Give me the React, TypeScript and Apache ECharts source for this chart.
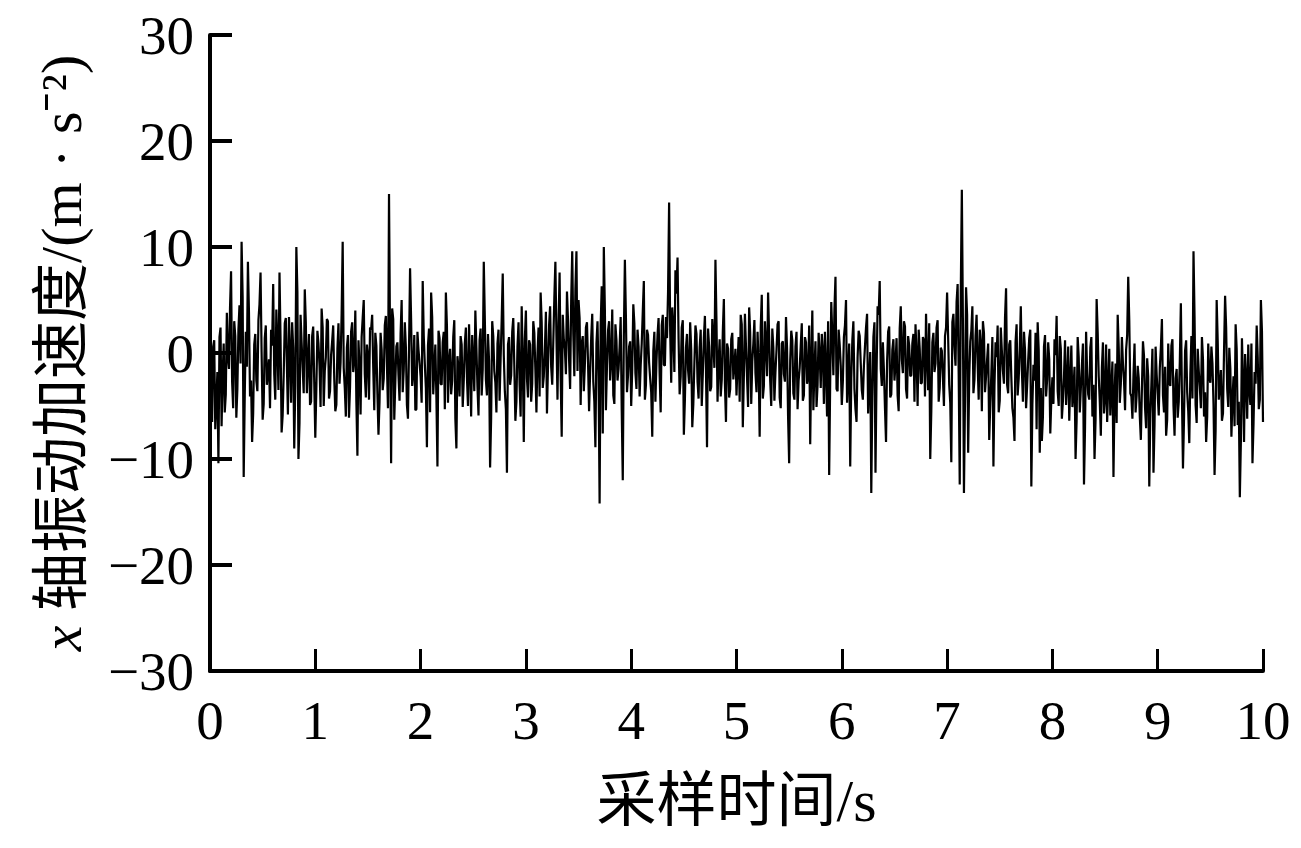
import React, { useEffect, useRef } from "react";
import * as echarts from "echarts";

// sampling step of the hand-read signal (s)
const SAMPLE_STEP_S = 0.01;

// axis ticks
const xTicks = [0, 1, 2, 3, 4, 5, 6, 7, 8, 9, 10];
const yTicks = [-30, -20, -10, 0, 10, 20, 30];

// x-axis vibration acceleration (m·s^-2).
// segN: samples at t = N + 0.00, 0.02, ... ; midN: samples at t = N + 0.01, 0.03, ...
const seg0 = [
  -3.2, -6.5, 1.2, -4.8, -10.4, 2.4, -2.1, -5.6, 3.8, -1.5,
  7.7, -5.2, 1.6, -3.4, 4.5, 10.5, -11.7, 2.0, 8.6, -4.1,
  -8.4, 0.8, -2.6, 3.1, 7.6, -6.3, 1.4, -3.0, -0.6, 2.2,
  6.5, -4.4, 0.9, 7.6, -7.5, -2.0, 3.3, -5.8, 0.2, 2.9,
  -9.0, 10.0, -10.0, 3.6, -1.4, 6.0, -3.8, 1.8, -4.6, 2.5,
];
const mid0 = [
  -5.8, 0.6, -7.2, -1.8, 1.5, -6.9, 0.9, -3.9, -0.4, 4.2,
  -2.7, 3.0, -6.1, 2.2, -1.0, 5.3, -4.0, -1.3, 3.9, -2.6,
  -5.7, 1.8, -3.6, 4.6, 0.1, -4.8, 2.6, -1.9, -5.2, 0.7,
  -2.0, 4.1, -3.5, 1.3, -5.9, 2.8, -1.1, 3.4, -4.7, 0.5,
  -3.1, 5.8, -6.6, 1.0, -3.8, 2.9, -0.7, -4.9, 1.6, -2.8,
];
const seg1 = [
  -8.0, 2.1, -1.2, 4.2, -5.0, -0.4, 3.0, -3.6, 1.1, -2.4,
  -4.9, 2.8, -0.9, 10.5, -3.3, 0.5, -6.1, 2.0, -1.8, 4.0,
  -9.7, -1.2, 1.5, 5.0, -4.2, -0.3, 2.4, 3.6, -5.4, 0.7,
  -7.7, 1.9, -3.5, 2.6, -1.0, 15.0, -10.4, 3.2, -2.7, 1.0,
  -4.5, 5.0, -1.6, 0.6, -6.2, 8.0, -3.1, 1.7, -5.3, 0.3,
];
const mid1 = [
  -3.4, 0.9, -5.1, 2.4, -1.7, 3.2, -4.3, -0.2, 2.6, -5.5,
  0.4, -2.9, 3.7, -1.4, -6.0, 1.7, -3.2, 2.9, -0.6, -4.6,
  1.2, -5.8, 3.3, -2.0, 0.8, -4.4, 2.2, -1.3, 1.9, -3.9,
  -4.6, 0.3, -2.4, 3.5, -5.2, 1.1, 4.2, -6.3, 0.6, -2.1,
  1.8, -3.7, 2.9, -4.9, 0.4, 3.1, -1.9, -5.4, 2.0, -0.9,
];
const seg2 = [
  -2.2, 6.8, -1.0, -8.9, 2.3, 5.7, -3.9, 0.8, -10.7, 1.4,
  -3.0, 2.0, 5.7, -4.7, 0.4, -2.6, 3.1, -9.0, -1.5, 1.6,
  -5.1, 0.9, -2.3, 2.7, -6.0, -0.8, 4.0, -3.2, 1.2, -4.0,
  8.6, -2.5, 1.8, -10.8, 3.0, -1.7, -5.6, 2.2, -0.5, 7.5,
  -3.6, -11.3, 1.5, -2.1, 3.3, -6.4, 0.6, -3.0, 4.4, -8.4,
];
const mid2 = [
  -4.7, 1.6, -3.3, 0.7, -5.6, 3.4, -1.6, -4.2, 2.1, -2.9,
  1.0, -5.3, 2.6, -0.8, -3.9, 1.5, -6.2, -0.3, -4.1, 0.8,
  -2.6, 2.4, -5.0, -1.2, 1.7, -3.6, 0.5, -5.9, 2.3, -1.5,
  3.2, -4.0, -0.7, -6.1, 1.6, -2.8, 0.9, -4.5, 3.1, -0.2,
  -5.3, 0.8, -3.0, 2.0, -1.2, -4.6, 2.9, -6.0, -0.5, 1.3,
];
const seg3 = [
  4.0, -4.2, 0.8, -2.9, 1.9, -5.6, 2.4, 5.7, -3.3, 0.2,
  -5.7, 2.6, -1.3, 1.0, 8.6, -4.4, 7.6, -7.9, 1.3, -2.0,
  3.1, -3.4, 9.6, -2.2, 9.6, 5.0, -4.9, 1.6, -1.1, 2.9,
  -5.5, 1.4, -2.7, -8.9, 3.0, -14.2, 6.3, 10.0, -5.4, 2.1,
  -2.6, 4.1, -4.8, 1.2, -1.5, 3.4, -12.0, 8.8, -3.7, 0.6,
];
const mid3 = [
  -2.4, 1.2, -4.6, 3.0, -1.6, -0.1, -4.1, 2.9, -2.2, 3.9,
  -1.2, 4.4, -3.0, 5.2, 1.6, 2.8, -2.2, 3.6, 0.4, 5.8,
  -0.6, 4.9, 1.8, 6.0, -1.7, 3.3, 0.9, -3.6, 2.4, -0.9,
  -1.8, 3.7, -4.6, 0.9, -2.2, 2.6, -7.6, 4.1, -1.2, 3.0,
  -0.8, -4.0, 2.7, -2.6, 0.6, -5.4, 1.5, 3.3, -2.1, 1.1,
];
const seg4 = [
  -5.0, 4.6, -1.9, 2.2, -4.1, 0.9, 6.8, -3.0, 1.7, -2.4,
  -7.9, 2.0, -0.8, 3.3, -5.6, 3.6, -1.2, 1.4, 14.2, -2.8,
  2.4, 7.8, 9.0, -3.9, 2.4, -7.7, 0.5, -1.6, 2.9, -7.0,
  -1.0, 1.8, -4.3, 2.2, -2.0, 3.5, -8.9, 0.6, -3.2, 1.1,
  8.8, -4.6, 1.3, -2.5, 5.1, -6.5, 0.4, -3.4, 1.9, -1.2,
];
const mid4 = [
  -1.5, 2.8, -3.4, 0.6, -1.2, 3.9, -4.4, 2.2, -0.9, -3.7,
  0.2, -4.6, 1.7, -2.0, 2.6, -1.1, 3.4, 5.8, 2.2, 4.3,
  -1.8, 5.6, 1.3, -2.2, 3.1, -4.4, 1.8, -2.9, 0.3, -4.8,
  2.6, -2.7, 0.5, -5.0, 1.4, -1.6, 2.3, -3.6, 3.2, -1.4,
  2.9, -0.8, -4.1, 2.0, -2.9, 0.9, -4.2, 1.3, -2.5, 0.4,
];
const seg5 = [
  -4.0, 1.5, 3.6, -7.0, 3.7, -2.3, 4.3, -4.8, 0.9, -1.9,
  2.0, -7.9, 5.5, -3.1, 0.7, 5.7, -2.6, 2.3, -4.5, 0.3,
  3.0, -5.2, 1.1, -2.7, 0.5, -10.4, 2.1, -3.8, 0.6, -5.3,
  -1.4, 2.8, -4.0, 1.0, -2.2, -8.6, 4.0, -1.6, -5.1, 1.9,
  -3.3, 0.2, 2.0, -6.0, -11.5, 4.8, -2.1, 7.2, -3.6, 0.8,
];
const mid5 = [
  -1.0, -4.6, 2.7, -2.2, 0.6, -5.1, 1.9, -0.8, 3.1, -3.7,
  -0.9, 2.4, -4.3, 3.0, -2.2, 1.6, -5.0, 0.5, -1.8, 2.7,
  -4.2, 0.9, -2.0, 3.4, -6.1, -0.7, 1.2, -4.4, 2.0, -2.6,
  0.7, -4.5, 1.5, -2.9, 2.6, -0.9, -5.4, 1.1, -3.0, -0.2,
  1.8, -4.8, -1.6, 3.0, -2.5, 1.6, 4.1, -3.4, 2.2, -1.2,
];
const seg6 = [
  -4.9, 1.5, 5.0, -2.0, -10.7, 1.2, -3.4, -6.5, 2.1, -1.0,
  -4.4, 0.6, 3.7, -2.8, -13.2, 1.5, -11.3, 4.4, 6.8, -3.1,
  -1.6, -8.4, 2.0, -4.2, 0.3, -2.6, 1.4, -5.5, 4.4, -1.9,
  2.5, -4.3, 0.7, -2.1, 1.8, 2.7, -5.0, 0.4, -2.8, 1.2,
  3.7, -3.5, -10.0, 1.0, -1.8, 2.4, -4.6, 0.5, -2.3, 1.6,
];
const mid6 = [
  -2.7, 2.6, -4.7, 0.9, -2.4, 3.0, -5.3, -0.4, 1.6, -3.5,
  -1.2, 2.4, -5.7, 0.1, -4.2, 2.9, -2.0, 3.6, -1.5, 1.0,
  -5.2, -0.8, 2.5, -3.9, 1.3, -1.1, -4.0, 2.3, -0.6, 3.0,
  -3.4, 1.6, -2.2, 0.9, -4.6, -0.3, 2.2, -2.9, 1.5, -4.1,
  -0.5, 2.8, -5.5, 1.9, -1.0, 3.1, -3.3, 0.2, -5.0, 2.4,
];
const seg7 = [
  5.7, -3.0, -10.3, 3.7, -1.2, 6.5, -12.4, 15.4, -13.2, 6.2,
  -9.4, 1.1, 4.4, -2.5, 3.6, -4.4, 0.8, 3.0, -3.7, -0.6,
  -8.2, -2.0, -10.7, 1.0, 2.6, -4.5, 0.2, -2.9, 6.1, -3.8,
  1.2, -5.2, -8.3, 2.7, -2.4, 4.4, -4.6, 0.3, -3.1, 1.4,
  -12.6, -1.1, 1.9, 2.9, -9.4, -8.3, 0.6, -4.1, 1.0, -7.6,
];
const mid7 = [
  1.4, -4.7, 2.9, 0.6, 4.8, -2.0, 5.9, 3.1, -4.5, 3.6,
  -2.4, 2.1, -3.8, 1.6, -1.0, 2.2, -5.5, 1.9, -2.2, 0.9,
  -4.8, 1.5, -3.1, -0.4, -5.6, 2.4, -1.7, 3.3, -3.0, 0.8,
  -2.3, -6.1, 1.0, -4.0, 0.4, -1.6, 2.0, -5.2, -0.7, 2.2,
  -4.9, -2.6, -7.2, 0.3, -3.3, -6.0, 1.7, -2.5, -0.6, -4.3,
];
const seg8 = [
  -2.3, 1.3, 3.5, -5.0, 0.4, -4.5, 1.2, -2.8, -6.4, 0.7,
  -3.5, -10.0, 1.5, -5.6, -1.2, -12.4, 2.0, -3.9, 0.5, -6.0,
  -10.0, 5.1, -2.2, -7.8, 1.0, -4.3, -6.5, 0.4, -3.3, -11.7,
  -1.0, 3.6, -4.7, 1.5, -2.6, 0.3, 7.2, -3.8, -6.2, 0.9,
  -4.0, -2.4, -8.2, 1.1, -5.2, -0.5, -12.6, -3.0, -11.3, 0.6,
];
const mid8 = [
  -4.8, -0.2, -3.6, 1.6, -6.2, -2.3, -4.9, 0.6, -2.7, -5.1,
  -1.3, -6.4, -0.4, -3.4, 0.9, -7.0, -1.9, -4.4, 1.5, -3.0,
  -6.3, 2.0, -4.6, -1.4, -5.7, 0.8, -3.2, -5.9, -0.8, -4.0,
  -6.6, 0.5, -2.9, -1.0, -5.4, 1.7, 3.1, -4.1, -2.1, -5.6,
  -1.2, -6.0, -3.4, -0.3, -7.1, -2.2, -5.8, 0.4, -6.7, -2.0,
];
const seg9 = [
  -3.9, -1.4, 3.2, -5.6, -7.8, 0.9, -3.1, 1.3, -7.8, -1.5,
  -4.6, 4.7, -10.9, 0.2, -3.7, -8.5, 1.6, 9.6, -4.9, 0.4,
  -3.2, 1.5, -6.0, -8.4, 0.9, -2.8, -1.0, -11.5, 5.0, -4.4,
  -1.6, -5.7, 5.4, -3.4, 0.5, -7.9, -2.2, 2.7, -6.8, -13.6,
  1.4, -8.4, -2.5, 0.8, -4.9, -10.4, -1.8, 2.6, -5.3, 5.0,
];
const mid9 = [
  -5.9, 0.5, -4.0, -1.3, -6.3, -2.8, 0.7, -5.0, -2.4, -6.1,
  -0.8, -3.9, -6.2, 1.2, -5.5, -2.0, -4.3, 3.4, -6.6, -1.7,
  -5.2, -0.6, -3.7, -6.0, -2.3, 0.6, -4.8, -7.3, 1.1, -3.2,
  -6.4, 0.2, 2.4, -5.1, -1.5, -4.4, -6.9, 0.4, -4.6, -8.3,
  -2.6, -0.1, -6.2, -3.5, 0.9, -6.7, -2.9, -0.4, -4.4, 2.1,
];
// last sample at t = 10.00 s
const lastValue = [-6.5];

const evenSamples = [...seg0, ...seg1, ...seg2, ...seg3, ...seg4, ...seg5, ...seg6, ...seg7, ...seg8, ...seg9];
const oddSamples = [...mid0, ...mid1, ...mid2, ...mid3, ...mid4, ...mid5, ...mid6, ...mid7, ...mid8, ...mid9];
const signal = [...evenSamples.flatMap((v, k) => [v, oddSamples[k]]), ...lastValue];
const seriesData = signal.map((v, i) => [Number((i * SAMPLE_STEP_S).toFixed(2)), v]);

const FONT = "'Liberation Serif', 'Times New Roman', 'Noto Sans CJK SC', serif";

export default function App() {
  const ref = useRef<HTMLDivElement | null>(null);

  useEffect(() => {
    document.body.style.margin = "0";
    document.body.style.overflow = "hidden";
    if (!ref.current) return;
    const chart = echarts.init(ref.current, undefined, { renderer: "svg" });
    chart.setOption({
      animation: false,
      backgroundColor: "#ffffff",
      grid: { left: 210, right: 38, top: 35, bottom: 177, containLabel: false },
      xAxis: {
        type: "value",
        min: xTicks[0],
        max: xTicks[xTicks.length - 1],
        interval: 1,
        name: "采样时间/s",
        nameLocation: "middle",
        nameGap: 100,
        nameTextStyle: { fontSize: 60, color: "#000", fontFamily: FONT },
        axisLine: { show: true, onZero: false, lineStyle: { color: "#000", width: 4 } },
        axisTick: { show: true, inside: true, length: 22, lineStyle: { color: "#000", width: 3 } },
        axisLabel: { margin: 22, fontSize: 55, color: "#000", fontFamily: FONT },
        splitLine: { show: false },
      },
      yAxis: {
        type: "value",
        min: yTicks[0],
        max: yTicks[yTicks.length - 1],
        interval: 10,
        name: "{it|x} 轴振动加速度/(m · s⁻²)",
        nameLocation: "middle",
        nameRotate: 90,
        nameGap: 120,
        nameTextStyle: {
          fontSize: 58,
          color: "#000",
          fontFamily: FONT,
          rich: {
            it: { fontSize: 58, fontStyle: "italic", fontFamily: FONT, color: "#000" },
          },
        },
        axisLine: { show: true, onZero: false, lineStyle: { color: "#000", width: 4 } },
        axisTick: { show: true, inside: true, length: 22, lineStyle: { color: "#000", width: 4 } },
        axisLabel: {
          margin: 16,
          fontSize: 55,
          color: "#000",
          fontFamily: FONT,
          formatter: (v: number) => (v < 0 ? "\u2212" + Math.abs(v) : String(v)),
        },
        splitLine: { show: false },
      },
      series: [
        {
          type: "line",
          data: seriesData,
          symbol: "none",
          showSymbol: false,
          lineStyle: { color: "#000", width: 2.2 },
          z: 1,
        },
      ],
    });
    return () => chart.dispose();
  }, []);

  return <div ref={ref} style={{ width: 1301, height: 848 }} />;
}
